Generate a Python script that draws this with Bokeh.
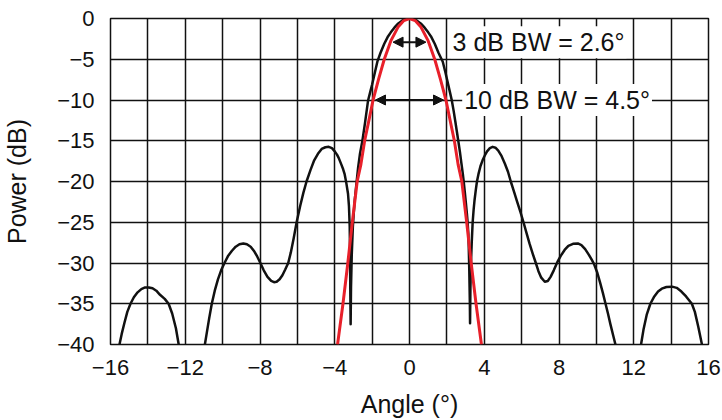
from bokeh.plotting import figure
from bokeh.models import Range1d, FixedTicker, Label, Arrow, NormalHead
from bokeh.embed import file_html
from bokeh.resources import INLINE

# ---- data ----
x_ticks = [-16, -12, -8, -4, 0, 4, 8, 12, 16]
x_tick_labels = ["−16", "−12", "−8", "−4", "0", "4", "8", "12", "16"]
x_grid = [-16, -14, -12, -10, -8, -6, -4, -2, 0, 2, 4, 6, 8, 10, 12, 14, 16]
y_ticks = [0, -5, -10, -15, -20, -25, -30, -35, -40]
y_tick_labels = ["0", "−5", "−10", "−15", "−20", "−25", "−30", "−35", "−40"]

# measured array pattern (black), three visible pieces
outer_left_x = [-15.52, -15.4, -15.25, -15.1, -14.93, -14.75, -14.55, -14.35, -14.15, -13.95,
                -13.75, -13.55, -13.35, -13.1, -12.89, -12.7, -12.5, -12.35]
outer_left_y = [-40.0, -38.7, -37.3, -36.0, -35.0, -34.2, -33.6, -33.2, -33.0, -33.0,
                -33.1, -33.4, -33.9, -34.4, -35.0, -36.2, -38.0, -40.0]

center_x = [-10.95, -10.85, -10.72, -10.58, -10.42, -10.25, -10.08, -9.9, -9.7, -9.5, -9.3, -9.1,
            -8.89, -8.7, -8.5, -8.3, -8.15, -8.0, -7.8, -7.6, -7.4, -7.25, -7.11, -6.95, -6.8,
            -6.65, -6.49, -6.35, -6.2, -6.04, -5.85, -5.68, -5.51, -5.3, -5.1, -4.9, -4.7, -4.5,
            -4.32, -4.15, -4.0, -3.88, -3.79, -3.65, -3.55, -3.47, -3.38, -3.29, -3.24, -3.2,
            -3.18, -3.17, -3.15, -3.13, -3.09, -3.03, -2.98, -2.93, -2.85, -2.75, -2.65, -2.52,
            -2.38, -2.22, -2.1, -2.0, -1.85, -1.72, -1.55, -1.35, -1.15, -1.0, -0.8, -0.6, -0.4,
            -0.2, 0.0, 0.2, 0.4, 0.6, 0.8, 1.0, 1.15, 1.35, 1.55, 1.78, 1.92, 2.05, 2.16, 2.26,
            2.36, 2.45, 2.53, 2.61, 2.7, 2.78, 2.85, 2.9, 2.96, 3.02, 3.07, 3.11, 3.15, 3.17, 3.2,
            3.23, 3.24, 3.26, 3.29, 3.33, 3.38, 3.43, 3.48, 3.55, 3.61, 3.7, 3.8, 3.91, 4.03,
            4.15, 4.3, 4.45, 4.6, 4.75, 4.93, 5.1, 5.27, 5.42, 5.6, 5.75, 5.93, 6.1, 6.26, 6.42,
            6.6, 6.76, 6.9, 7.05, 7.24, 7.4, 7.55, 7.72, 7.91, 8.1, 8.3, 8.5, 8.75, 9.01, 9.2,
            9.4, 9.6, 9.75, 9.87, 10.05, 10.2, 10.35, 10.49, 10.62, 10.75, 10.9, 11.02]
center_y = [-40.0, -38.6, -36.8, -35.0, -33.4, -32.0, -30.9, -30.0, -29.1, -28.5, -28.0, -27.7,
            -27.6, -27.7, -28.0, -28.6, -29.2, -29.9, -30.9, -31.7, -32.2, -32.35, -32.3, -32.0, -31.5,
            -30.8, -30.0, -28.7, -27.0, -25.0, -23.0, -21.4, -20.0, -18.6, -17.4, -16.6, -16.0, -15.8,
            -15.75, -15.9, -16.3, -16.7, -17.1, -17.9, -18.5, -19.1, -20.2, -21.5, -23.0, -25.5,
            -29.0, -33.0, -37.5, -33.0, -29.0, -25.5, -23.8, -22.3, -20.5, -18.3, -16.6, -15.0,
            -12.8, -10.1, -9.0, -8.1, -6.6, -5.3, -4.2, -3.1, -2.2, -1.7, -1.1, -0.6, -0.27,
            -0.07, 0.0, -0.07, -0.27, -0.6, -1.1, -1.7, -2.2, -3.1, -4.2, -5.3, -6.6, -7.9, -9.0, -10.0,
            -11.3, -12.6, -13.8, -15.0, -16.4, -17.8, -19.0, -20.0, -21.3, -22.7, -23.9, -25.0, -26.5, -28.0, -31.0,
            -35.0, -37.4, -33.0, -30.0, -27.5, -25.0, -23.5, -22.3, -21.0, -20.0, -19.0, -18.1, -17.4, -16.8,
            -16.3, -15.9, -15.75, -15.85, -16.2, -16.9, -17.8, -18.8, -20.0, -21.3, -22.4, -23.7, -25.0, -26.3, -27.6,
            -28.9, -30.0, -31.0, -31.8, -32.3, -32.2, -31.7, -30.9, -29.9, -29.1, -28.4, -27.9, -27.65, -27.6, -27.8,
            -28.3, -29.0, -29.6, -30.1, -31.2, -32.4, -33.7, -35.0, -36.2, -37.5, -38.9, -40.0]

outer_right_x = [12.39, 12.52, 12.7, 12.89, 13.1, 13.3, 13.5, 13.75, 14.05, 14.3, 14.55, 14.8,
                 14.97, 15.11, 15.27, 15.45, 15.65]
outer_right_y = [-40.0, -38.2, -36.3, -35.0, -34.1, -33.5, -33.15, -32.95, -32.9, -33.05, -33.5, -34.1,
                 -34.6, -35.0, -36.0, -37.8, -40.0]

# fitted main-beam model (red)
model_x = [-3.85, -3.56, -3.3, -3.06, -2.8, -2.6, -2.4, -2.2, -1.95, -1.65, -1.35, -1.0, -0.6, -0.3, 0.0,
           0.3, 0.6, 1.0, 1.35, 1.65, 1.95, 2.2, 2.4, 2.6, 2.8, 3.06, 3.3, 3.56, 3.85]
model_y = [-40.0, -35.0, -30.0, -25.0, -20.0, -17.9, -15.0, -12.8, -10.0, -7.4, -5.0, -2.75, -1.0, -0.25, 0.0,
           -0.25, -1.0, -2.75, -5.0, -7.4, -10.0, -12.8, -15.0, -17.9, -20.0, -25.0, -30.0, -35.0, -40.0]

# beamwidth markers: level (dB) and half-span of the arrow (deg)
bw_levels = [-2.9, -10.0]
bw_half = [0.88, 1.82]
bw_texts = ["3 dB BW = 2.6°", "10 dB BW = 4.5°"]

FONT = "Liberation Sans"
INK = "#111111"

p = figure(width=722, height=420, output_backend="svg", toolbar_location=None,
           x_range=Range1d(-16, 16), y_range=Range1d(-40, 0),
           min_border_left=108, min_border_right=14, min_border_top=18, min_border_bottom=76)

p.background_fill_color = "white"
p.border_fill_color = "white"
p.outline_line_color = INK
p.outline_line_width = 1.5

p.xaxis.ticker = FixedTicker(ticks=x_ticks)
p.xaxis.major_label_overrides = {t: s for t, s in zip(x_ticks, x_tick_labels)}
p.yaxis.ticker = FixedTicker(ticks=y_ticks)
p.yaxis.major_label_overrides = {t: s for t, s in zip(y_ticks, y_tick_labels)}
p.xgrid.ticker = FixedTicker(ticks=x_grid)
p.ygrid.ticker = FixedTicker(ticks=y_ticks)
for g in (p.xgrid, p.ygrid):
    g.grid_line_color = INK
    g.grid_line_width = 1.5
    g.grid_line_alpha = 1.0

for ax in (p.xaxis, p.yaxis):
    ax.axis_line_color = None
    ax.major_tick_line_color = None
    ax.minor_tick_line_color = None
    ax.major_label_text_font = FONT
    ax.major_label_text_font_size = "22px"
    ax.major_label_text_color = INK
    ax.axis_label_text_font = FONT
    ax.axis_label_text_font_size = "25px"
    ax.axis_label_text_font_style = "normal"
    ax.axis_label_text_color = INK

p.xaxis.axis_label = "Angle (°)"
p.yaxis.axis_label = "Power (dB)"
p.xaxis.major_label_standoff = 9
p.xaxis.axis_label_standoff = 12
p.yaxis.major_label_standoff = 10
p.yaxis.axis_label_standoff = 23

for xs, ys in ((outer_left_x, outer_left_y), (center_x, center_y), (outer_right_x, outer_right_y)):
    p.line(xs, ys, line_color=INK, line_width=2.5, line_join="round")

p.line(model_x, model_y, line_color="#e8202a", line_width=3, line_join="round")

for lvl, half in zip(bw_levels, bw_half):
    p.add_layout(Arrow(start=NormalHead(size=10, fill_color=INK, line_color=INK),
                       end=NormalHead(size=10, fill_color=INK, line_color=INK),
                       x_start=-half, y_start=lvl, x_end=half, y_end=lvl,
                       line_color=INK, line_width=2))

p.add_layout(Label(x=2.2, y=bw_levels[0], text=bw_texts[0], text_font=FONT,
                   text_font_size="25px", text_color=INK, text_baseline="middle",
                   background_fill_color="white", padding=2))
p.add_layout(Label(x=2.82, y=bw_levels[1], text=bw_texts[1], text_font=FONT,
                   text_font_size="25px", text_color=INK, text_baseline="middle",
                   background_fill_color="white", padding=2))

open("out.html", "w").write(file_html(p, INLINE))
